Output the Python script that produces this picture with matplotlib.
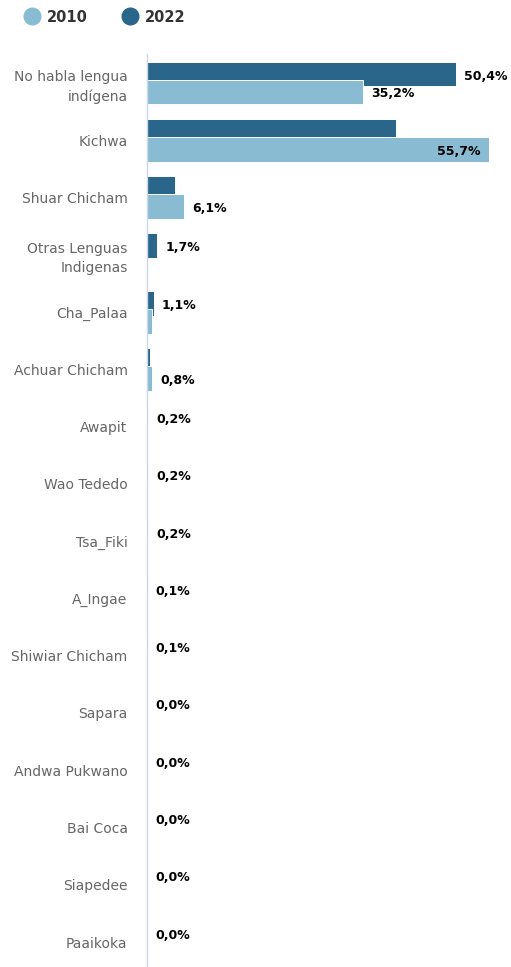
import matplotlib.pyplot as plt
from matplotlib.lines import Line2D

categories = ["No habla lengua\nindígena", "Kichwa", "Shuar Chicham", "Otras Lenguas\nIndigenas",
              "Cha_Palaa", "Achuar Chicham", "Awapit", "Wao Tededo", "Tsa_Fiki", "A_Ingae",
              "Shiwiar Chicham", "Sapara", "Andwa Pukwano", "Bai Coca", "Siapedee", "Paaikoka"]
v2022 = [50.4, 40.5, 4.5, 1.7, 1.1, 0.5, 0.2, 0.2, 0.2, 0.1, 0.1, 0.0, 0.0, 0.0, 0.0, 0.0]
v2010 = [35.2, 55.7, 6.1, 0.0, 0.8, 0.8, 0.2, 0.1, 0.1, 0.1, 0.1, 0.0, 0.0, 0.0, 0.0, 0.0]
# which series carries the visible data label for each category
label_on = ["both", "2010in", "2010", "2022", "2022", "2010", "2022", "2022", "2022", "2022",
            "2022", "2022", "2022", "2022", "2022", "2022"]

c2010 = "#89bcd3"
c2022 = "#29668a"

W, H = 511, 967
fig = plt.figure(figsize=(W / 100, H / 100), dpi=100)
ax = fig.add_axes([147 / W, 0, 353 / W, 1 - 54 / H])

off = 0.157
bh = 0.436
pxu = 353 / 57.5  # pixels per percent
for i in range(len(categories)):
    ax.barh(i - off, v2022[i], height=bh, color=c2022, edgecolor="white", linewidth=0.7, zorder=2)
    ax.barh(i + off, v2010[i], height=bh, color=c2010, edgecolor="white", linewidth=0.7, zorder=3)

pad = 8 / pxu
def fmt(v):
    return f"{v:.1f}%".replace(".", ",")

for i, mode in enumerate(label_on):
    kw = dict(fontsize=9, color="black", va="center", clip_on=False, zorder=5, fontweight="bold")
    if mode in ("both", "2022"):
        ax.text(v2022[i] + pad, i - off + 0.035, fmt(v2022[i]), ha="left", **kw)
    if mode in ("both", "2010"):
        ax.text(v2010[i] + pad, i + off + 0.035, fmt(v2010[i]), ha="left", **kw)
    if mode == "2010in":
        ax.text(v2010[i] - pad, i + off + 0.035, fmt(v2010[i]), ha="right", **kw)

ax.set_xlim(0, 57.5)
ax.set_ylim(15 + 25 / 57.27, -29 / 57.27)
ax.set_yticks(range(len(categories)))
ax.set_yticklabels(categories, fontsize=10, color="#666666", linespacing=1.45)
for lbl in ax.get_yticklabels():
    if "\n" in lbl.get_text():
        lbl.set_y(lbl.get_position()[1])
ax.tick_params(axis="y", length=0, pad=14)
ax.set_xticks([])
for s in ["top", "right", "bottom"]:
    ax.spines[s].set_visible(False)
ax.spines["left"].set_color("#ccd6eb")
ax.spines["left"].set_linewidth(1)
ax.spines["left"].set_zorder(10)

handles = [Line2D([], [], marker="o", ls="", markersize=12, color=c2010),
           Line2D([], [], marker="o", ls="", markersize=12, color=c2022)]
fig.legend(handles, ["2010", "2022"], loc="center left", bbox_to_anchor=(17 / W, 1 - 17 / H),
           ncol=2, frameon=False, handletextpad=0.45, columnspacing=2.3,
           prop={"size": 10.5, "weight": "bold"}, labelcolor="#333333", borderaxespad=0,
           handlelength=1.2)

fig.savefig("out.png", dpi=100)
